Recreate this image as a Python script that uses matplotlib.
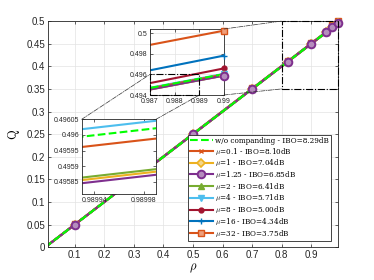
import matplotlib
matplotlib.use("Agg")
import matplotlib.pyplot as plt
from matplotlib.patches import Rectangle, ConnectionPatch

plt.rcParams['mathtext.fontset'] = 'cm'
plt.rcParams['font.family'] = ['Liberation Sans', 'DejaVu Sans']

# ---------------- data ----------------
rho = [0.0, 0.1, 0.3, 0.5, 0.7, 0.82, 0.9, 0.95, 0.97, 0.99]

q_wo    = [0.0, 0.0500, 0.1500, 0.2500, 0.3500, 0.4100, 0.4500, 0.4750, 0.487026, 0.496026]
q_mu01  = [0.0, 0.0500, 0.1500, 0.2500, 0.3500, 0.4100, 0.4500, 0.4750, 0.486993, 0.495993]
q_mu1   = [0.0, 0.0499, 0.1498, 0.2497, 0.3497, 0.4097, 0.4497, 0.4747, 0.486887, 0.495887]
q_mu125 = [0.0, 0.0499, 0.1498, 0.2497, 0.3497, 0.4097, 0.4497, 0.4747, 0.486877, 0.495877]
q_mu2   = [0.0, 0.0499, 0.1498, 0.2498, 0.3498, 0.4098, 0.4498, 0.4748, 0.486895, 0.495895]
q_mu4   = [0.0, 0.0500, 0.1500, 0.2500, 0.3500, 0.4100, 0.4500, 0.4750, 0.487050, 0.496050]
q_mu8   = [0.0, 0.0501, 0.1502, 0.2503, 0.3503, 0.4103, 0.4503, 0.4753, 0.487080, 0.496580]
q_mu16  = [0.0, 0.0502, 0.1504, 0.2505, 0.3505, 0.4105, 0.4505, 0.4756, 0.488320, 0.497820]
q_mu32  = [0.0, 0.0504, 0.1507, 0.2510, 0.3510, 0.4110, 0.4510, 0.4762, 0.491040, 0.500240]

labels = ['w/o companding - IBO=8.29dB',
          r'$\mu$=0.1 - IBO=8.10dB',
          r'$\mu$=1 - IBO=7.04dB',
          r'$\mu$=1.25 - IBO=6.85dB',
          r'$\mu$=2 - IBO=6.41dB',
          r'$\mu$=4 - IBO=5.71dB',
          r'$\mu$=8 - IBO=5.00dB',
          r'$\mu$=16 - IBO=4.34dB',
          r'$\mu$=32 - IBO=3.75dB']

xticks_main = [0.1, 0.2, 0.3, 0.4, 0.5, 0.6, 0.7, 0.8, 0.9]
yticks_main = [0, 0.05, 0.1, 0.15, 0.2, 0.25, 0.3, 0.35, 0.4, 0.45, 0.5]
ytick_labels_main = ['0', '0.05', '0.1', '0.15', '0.2', '0.25', '0.3', '0.35', '0.4', '0.45', '0.5']
xticks_in1 = [0.987, 0.988, 0.989, 0.99]
xtick_labels_in1 = ['0.987', '0.988', '0.989', '0.99']
yticks_in1 = [0.494, 0.496, 0.498, 0.5]
ytick_labels_in1 = ['0.494', '0.496', '0.498', '0.5']
xticks_in2 = [0.98994, 0.98998]
xtick_labels_in2 = ['0.98994', '0.98998']
yticks_in2 = [0.49585, 0.4959, 0.49595, 0.496, 0.49605]
ytick_labels_in2 = ['0.49585', '0.4959', '0.49595', '0.496', '0.49605']

# ---------------- styles ----------------
C_OR = '#D95319'; C_YE = '#EDB120'; C_PU = '#7E2F8E'; C_GR = '#77AC30'
C_CY = '#4DBEEE'; C_DR = '#A2142F'; C_BL = '#0072BD'
line_kw = [
    dict(color='#00FF00', ls='--', lw=1.5),
    dict(color=C_OR, lw=1.5), dict(color=C_YE, lw=1.5), dict(color=C_PU, lw=1.5),
    dict(color=C_GR, lw=1.5), dict(color=C_CY, lw=1.5), dict(color=C_DR, lw=1.5),
    dict(color=C_BL, lw=1.5), dict(color=C_OR, lw=1.5),
]
mark_kw = [
    dict(marker=None),
    dict(marker='x', ms=3.5, mew=1.0, mec=C_OR),
    dict(marker='D', ms=4, mew=1.2, mec=C_YE, mfc='#F5D68A'),
    dict(marker='o', ms=5.5, mew=1.4, mec=C_PU, mfc='#B58DBD'),
    dict(marker='^', ms=4.5, mew=1.0, mec=C_GR, mfc=C_GR),
    dict(marker='v', ms=4.5, mew=1.0, mec=C_CY, mfc=C_CY),
    dict(marker='o', ms=3.5, mew=1.0, mec=C_DR, mfc=C_DR),
    dict(marker='+', ms=4, mew=1.0, mec=C_BL),
    dict(marker='s', ms=4, mew=1.0, mec=C_OR, mfc='#EE9E7A'),
]
series = [q_wo, q_mu01, q_mu1, q_mu125, q_mu2, q_mu4, q_mu8, q_mu16, q_mu32]
draw_order = [8, 7, 6, 5, 4, 2, 1, 3, 0]

AX_COL = '#262626'

def style_axes(a, fs, grid=True):
    for s in a.spines.values():
        s.set_color(AX_COL)
        s.set_linewidth(0.6)
    a.tick_params(direction='in', length=2.5, width=0.5, colors=AX_COL,
                  labelsize=fs, top=True, right=True, pad=2)
    if grid:
        a.grid(True, color='#E3E3E3', lw=0.5)
        a.set_axisbelow(True)

def plot_all(a, xlim):
    # indices of data points inside the visible x range get unclipped markers
    idx = [k for k, r in enumerate(rho) if xlim[0] <= r <= xlim[1]]
    for i in draw_order:
        a.plot(rho, series[i], **line_kw[i])
        if mark_kw[i]['marker'] is not None:
            a.plot(rho, series[i], ls='none', markevery=idx, clip_on=False,
                   zorder=3, **mark_kw[i])

fig = plt.figure(figsize=(3.74, 2.8), dpi=100)
W, H = 374.0, 280.0

# main axes
ax = fig.add_axes([48 / W, 1 - 247.3 / H, 290 / W, 226.3 / H])
xl_main = (0.01, 0.99)
plot_all(ax, xl_main)
ax.set_xlim(*xl_main)
ax.set_ylim(0, 0.5)
ax.set_xticks(xticks_main)
ax.set_xticklabels([f'{v:g}' for v in xticks_main])
ax.set_yticks(yticks_main)
ax.set_yticklabels(ytick_labels_main)
style_axes(ax, 7)
ax.set_xlabel(r'$\rho$', fontsize=9, labelpad=1)
ax.set_ylabel(r'$\mathrm{Q}$', fontsize=9)
ax.yaxis.set_label_coords(-0.09, 0.5)

handles = [plt.Line2D([], [], **line_kw[i], **mark_kw[i]) for i in range(len(series))]
leg = ax.legend(handles, labels, loc='lower right', bbox_to_anchor=(0.976, 0.029),
                borderaxespad=0, prop={'family': 'DejaVu Serif', 'size': 5.2},
                handlelength=3.2, handletextpad=0.3, labelspacing=0.1, borderpad=0.3,
                fancybox=False, edgecolor=AX_COL, framealpha=1)
leg.get_frame().set_linewidth(0.6)
leg.set_zorder(10)

# zoom rectangle on main
ax.add_patch(Rectangle((0.8, 0.35), 0.19, 0.15, fill=False, ls='-.', lw=0.8,
                       ec='black', zorder=5, clip_on=False))

# inset 1
ax1 = fig.add_axes([150 / W, 1 - 95 / H, 74 / W, 66 / H])
xl1 = (0.987, 0.99)
plot_all(ax1, xl1)
ax1.set_xlim(*xl1)
ax1.set_ylim(0.494, 0.5004)
ax1.set_xticks(xticks_in1)
ax1.set_xticklabels(xtick_labels_in1)
ax1.set_yticks(yticks_in1)
ax1.set_yticklabels(ytick_labels_in1)
style_axes(ax1, 5)
ax1.add_patch(Rectangle((0.987, 0.494), 0.002, 0.002, fill=False, ls='-.', lw=0.8,
                        ec='black', zorder=5, clip_on=False))

# inset 2
ax2 = fig.add_axes([81.7 / W, 1 - 194 / H, 74.3 / W, 74.7 / H])
xl2 = (0.98993, 0.98999)
plot_all(ax2, xl2)
ax2.set_xlim(*xl2)
ax2.set_ylim(0.495811, 0.4960502)
ax2.set_xticks(xticks_in2)
ax2.set_xticklabels(xtick_labels_in2)
ax2.set_yticks(yticks_in2)
ax2.set_yticklabels(ytick_labels_in2)
style_axes(ax2, 5, grid=False)

# connectors
ckw = dict(ls='-.', lw=0.5, color='#333333', zorder=20)
for pa, pb in [((0.99, 0.5004), (0.8, 0.5)), ((0.99, 0.494), (0.8, 0.35))]:
    fig.add_artist(ConnectionPatch(xyA=pa, coordsA=ax1.transData,
                                   xyB=pb, coordsB=ax.transData, **ckw))
for pa, pb in [((0.98993, 0.4960502), (0.987, 0.496)), ((0.98999, 0.4960502), (0.989, 0.494))]:
    fig.add_artist(ConnectionPatch(xyA=pa, coordsA=ax2.transData,
                                   xyB=pb, coordsB=ax1.transData, **ckw))

fig.savefig('out.png', dpi=100)
